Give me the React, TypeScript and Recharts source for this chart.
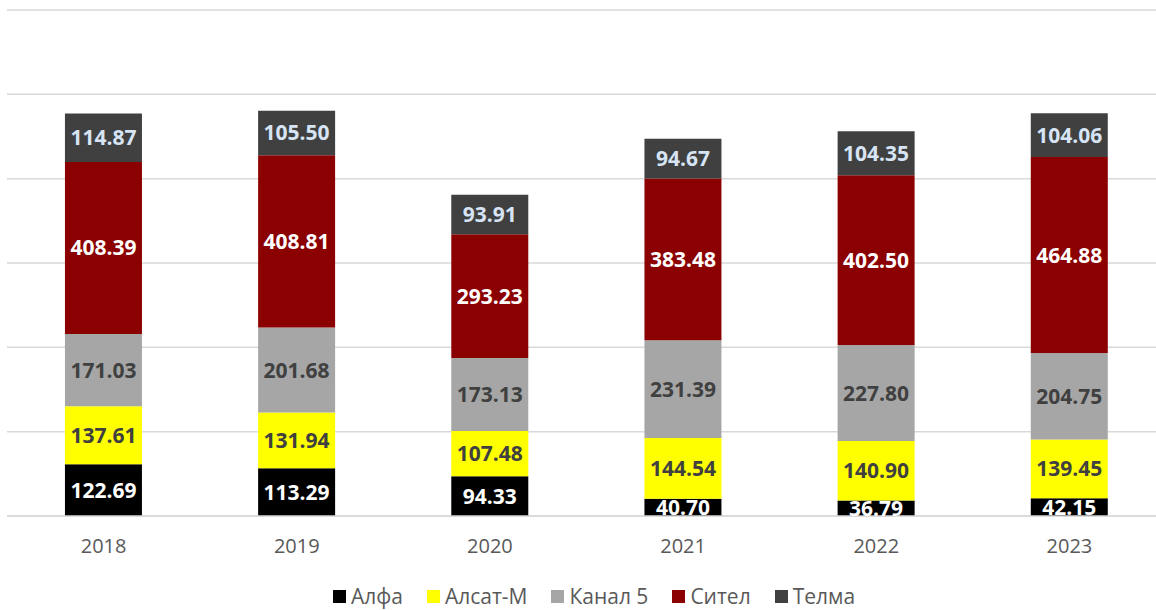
import { BarChart, Bar, XAxis, YAxis, CartesianGrid, Legend, LabelList } from 'recharts'

const years = ['2018', '2019', '2020', '2021', '2022', '2023']
const alfa = [122.69, 113.29, 94.33, 40.7, 36.79, 42.15]
const alsat = [137.61, 131.94, 107.48, 144.54, 140.9, 139.45]
const kanal5 = [171.03, 201.68, 173.13, 231.39, 227.8, 204.75]
const sitel = [408.39, 408.81, 293.23, 383.48, 402.5, 464.88]
const telma = [114.87, 105.5, 93.91, 94.67, 104.35, 104.06]

const yTicks = [0, 200, 400, 600, 800, 1000, 1200]

const series = [
  { key: 'alfa', name: 'Алфа', color: '#000000', label: '#ffffff' },
  { key: 'alsat', name: 'Алсат-М', color: '#ffff00', label: '#404040' },
  { key: 'kanal5', name: 'Канал 5', color: '#a6a6a6', label: '#404040' },
  { key: 'sitel', name: 'Сител', color: '#8b0000', label: '#ffffff' },
  { key: 'telma', name: 'Телма', color: '#404040', label: '#d6e4f5' },
]

const data = years.map((year, i) => ({
  year,
  alfa: alfa[i],
  alsat: alsat[i],
  kanal5: kanal5[i],
  sitel: sitel[i],
  telma: telma[i],
}))

const FONT = '"Open Sans", sans-serif'

const renderLegend = () => (
  <div
    style={{
      display: 'flex',
      justifyContent: 'center',
      alignItems: 'center',
      height: 24,
      lineHeight: '24px',
      fontFamily: FONT,
      fontSize: 21,
      color: '#595959',
    }}
  >
    {series.map((s, i) => (
      <div
        key={s.key}
        style={{ display: 'flex', alignItems: 'center', marginRight: i < series.length - 1 ? 24 : 0 }}
      >
        <span style={{ width: 13, height: 13, background: s.color, marginRight: 5, display: 'inline-block' }} />
        <span>{s.name}</span>
      </div>
    ))}
  </div>
)

export default function App() {
  return (
    <div style={{ position: 'absolute', left: 0, top: 0, width: 1156, height: 610, overflow: 'hidden', background: '#fff' }}>
      <BarChart
        width={1170}
        height={610}
        data={data}
        margin={{ top: 10, right: 4, left: 7, bottom: 30 }}
        barCategoryGap='30%'
      >
        <CartesianGrid vertical={false} stroke='#d9d9d9' strokeWidth={1.5} />
        <YAxis hide domain={[0, 1200]} ticks={yTicks} />
        <XAxis
          dataKey='year'
          height={40}
          tickLine={false}
          tickSize={0}
          tickMargin={23}
          axisLine={{ stroke: '#d9d9d9', strokeWidth: 1.5 }}
          tick={{ fill: '#595959', fontSize: 20, fontFamily: FONT }}
        />
        <Legend
          content={renderLegend}
          wrapperStyle={{ position: 'absolute', left: 14, width: 1160, top: 584, bottom: 'auto' }}
        />
        {series.map((s) => (
          <Bar key={s.key} dataKey={s.key} name={s.name} stackId='a' fill={s.color} isAnimationActive={false}>
            <LabelList
              dataKey={s.key}
              position='center'
              formatter={(v: number) => v.toFixed(2)}
              fill={s.label}
              style={{ fontFamily: FONT, fontSize: 21, fontWeight: 700 }}
            />
          </Bar>
        ))}
      </BarChart>
    </div>
  )
}
